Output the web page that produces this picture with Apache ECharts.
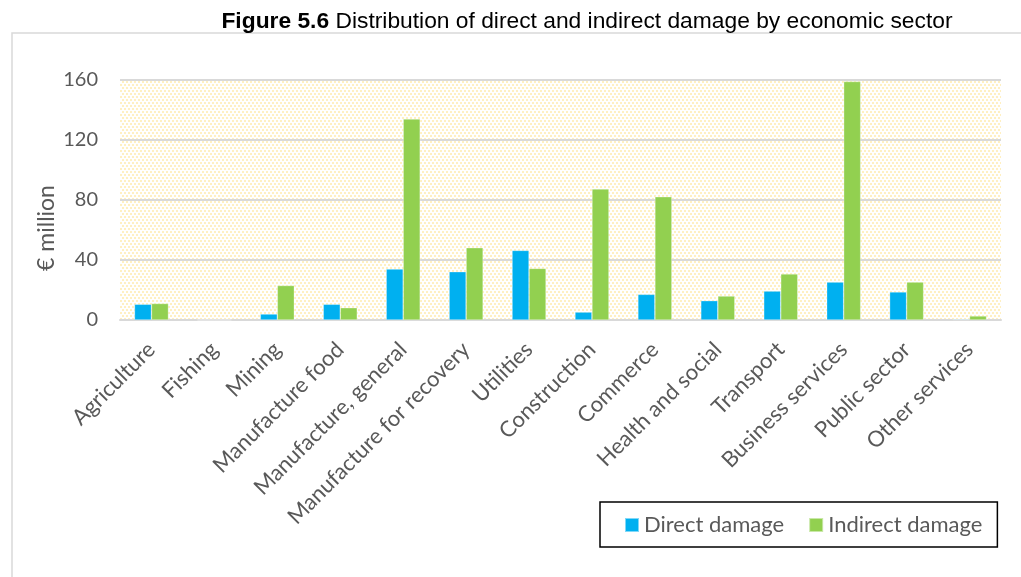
<!DOCTYPE html>
<html><head><meta charset="utf-8">
<script src="https://cdn.jsdelivr.net/npm/echarts@6/dist/echarts.min.js"></script>
<style>html,body{margin:0;padding:0;background:#fff}#c{width:1021px;height:577px}</style>
</head><body><div id="c"></div>
<script>
const categories = ["Agriculture","Fishing","Mining","Manufacture food","Manufacture, general","Manufacture for recovery","Utilities","Construction","Commerce","Health and social","Transport","Business services","Public sector","Other services"];
const directDamage = [10.5, 0, 4, 10.5, 34, 32.2, 46.4, 5.3, 17.1, 12.9, 19.3, 25.3, 18.7, 0.5];
const indirectDamage = [11, 0, 23, 8.2, 134, 48.2, 34.4, 87.3, 82.2, 16, 30.7, 159, 25.3, 2.7];
const seriesNames = ["Direct damage", "Indirect damage"];
const yTicks = [0, 40, 80, 120, 160];

const tile = document.createElement('canvas');
tile.width = 4; tile.height = 6;
const tc = tile.getContext('2d');
tc.fillStyle = '#ffffff'; tc.fillRect(0,0,4,6);
tc.fillStyle = '#fff0c2';
tc.fillRect(0,0,2,2); tc.fillRect(2,3,2,2);

const chart = echarts.init(document.getElementById('c'), null, {renderer:'canvas'});
const labelFont = 'Lato, "Open Sans", sans-serif';
chart.setOption({
  animation: false,
  title: {
    text: '{b|Figure 5.6} Distribution of direct and indirect damage by economic sector',
    left: 582, top: 5, textAlign: 'center',
    textStyle: {
      fontFamily: '"Liberation Sans", Arial, sans-serif', fontSize: 22.8, fontWeight: 'normal', color: '#000',
      rich: { b: {fontFamily: '"Liberation Sans", Arial, sans-serif', fontSize: 22.8, fontWeight: 'bold', color: '#000'} }
    }
  },
  graphic: [
    {type:'rect', shape:{x:12, y:33, width:1030, height:560}, style:{fill:'none', stroke:'#d9d9d9', lineWidth:1.5}, silent:true, z:-10},
    {type:'text', x:47, y:228, rotation:Math.PI/2, style:{text:'€ million', font:'23px ' + labelFont, fill:'#595959', align:'center', verticalAlign:'middle'}}
  ],
  grid: { left: 120, right: 20, top: 80, bottom: 257, show: true, backgroundColor: {image: tile, repeat: 'repeat'}, borderWidth: 0 },
  legend: {
    data: seriesNames, left: 600, top: 502, width: 420,
    borderColor: '#000', borderWidth: 1.5, padding: [12, 15, 11, 24],
    itemWidth: 14, itemHeight: 14, itemGap: 24, icon: 'rect',
    textStyle: {fontFamily: labelFont, fontSize: 22, color: '#595959'}
  },
  xAxis: {
    type: 'category', data: categories,
    axisLine: {lineStyle: {color: '#d9d9d9', width: 2}},
    axisTick: {show: false},
    axisLabel: {rotate: 45, interval: 0, fontFamily: labelFont, fontSize: 22, color: '#595959', margin: 26}
  },
  yAxis: {
    type: 'value', min: yTicks[0], max: yTicks[yTicks.length-1], interval: 40,
    axisLine: {show: false}, axisTick: {show: false},
    axisLabel: {fontFamily: labelFont, fontSize: 20, color: '#595959', margin: 22},
    splitLine: {lineStyle: {color: '#d9d9d9', width: 2}}
  },
  series: [
    {name: seriesNames[0], type: 'bar', data: directDamage, barWidth: 17, barGap: '0%', itemStyle: {color: '#00b0f0', borderColor: 'rgba(255,255,255,0.5)', borderWidth: 0.6}},
    {name: seriesNames[1], type: 'bar', data: indirectDamage, barWidth: 17, barGap: '0%', itemStyle: {color: '#92d050', borderColor: 'rgba(255,255,255,0.5)', borderWidth: 0.6}}
  ]
});
</script></body></html>
